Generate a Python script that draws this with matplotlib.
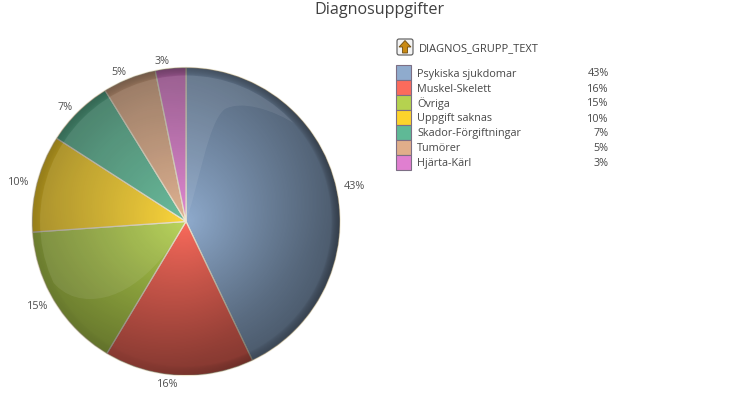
import numpy as np
import matplotlib
matplotlib.use('Agg')
import matplotlib.pyplot as plt
from matplotlib.patches import Circle, Rectangle, FancyBboxPatch, PathPatch, Polygon
from matplotlib.path import Path

plt.rcParams['font.family'] = ['Open Sans', 'DejaVu Sans']

# Datos
categorias = ['Psykiska sjukdomar', 'Muskel-Skelett', 'Övriga', 'Uppgift saknas',
              'Skador-Förgiftningar', 'Tumörer', 'Hjärta-Kärl']
andelar = [42.9, 15.7, 15.3, 10.2, 7.1, 5.6, 3.2]
etiquetas = ['43%', '16%', '15%', '10%', '7%', '5%', '3%']
colores = ['#8fabcd', '#fb6b5c', '#b5d24f', '#fdd42c', '#5fb996', '#e0ae8a', '#e07fd0']

W, H = 747, 402
cx, cy, R = 186, 222.5, 154

fig = plt.figure(figsize=(W / 100, H / 100), dpi=100)
ax = fig.add_axes([0, 0, 1, 1])

# eje y invertido: empezar en -90 y crecer = horario desde arriba
wedges, textos = ax.pie(andelar, labels=etiquetas, colors=colores, startangle=-90,
                        counterclock=True, center=(cx, cy), radius=R, labeldistance=1.05,
                        wedgeprops={'edgecolor': '#eee6cf', 'linewidth': 0.9},
                        textprops={'fontsize': 7.8, 'color': '#505050'})
# pie alinea segun x absoluto, aqui hay que mirar el lado respecto al centro
for t in textos:
    t.set_ha('right' if t.get_position()[0] < cx else 'left')

circulo = Circle((cx, cy), R, transform=ax.transData)

# sombreado: oscurece hacia el borde y hacia abajo a la derecha
yy, xx = np.mgrid[cy - R:cy + R:620j, cx - R:cx + R:620j]
dx = (xx - cx) / R
dy = (yy - cy) / R
r = np.hypot(dx, dy)
alfa = 0.42 * np.clip(r, 0, 1) ** 0.9 + 0.06 * np.clip(dx + dy, -1, 1)
alfa = np.clip(alfa, 0, 1)
borde = np.clip((r - 0.945) / 0.055, 0, 1)
alfa_borde = 0.52 + 0.12 * dx
alfa = alfa + (alfa_borde - alfa) * borde ** 0.6 * (r <= 1)
sombra = np.zeros(r.shape + (4,))
sombra[..., 3] = np.clip(alfa, 0, 1)
im = ax.imshow(sombra, extent=(cx - R, cx + R, cy + R, cy - R), zorder=3, interpolation='bilinear')
im.set_clip_path(circulo)

# brillo arriba a la izquierda
verts = [(300, 128), (270, 108), (240, 102), (225, 110),
         (208, 122), (198, 190), (186, 222),
         (165, 262), (130, 300), (90, 300),
         (70, 300), (52, 290), (40, 262),
         (10, 262), (10, 40), (310, 40), (300, 128)]
codes = [Path.MOVETO] + [Path.CURVE4] * 12 + [Path.LINETO] * 3 + [Path.CLOSEPOLY]
brillo = PathPatch(Path(verts, codes), facecolor='white', edgecolor='none', alpha=0.08, zorder=4)
ax.add_patch(brillo)
brillo.set_clip_path(Circle((cx, cy), R - 8, transform=ax.transData))

# titulo
ax.text(379.5, 10, 'Diagnosuppgifter', ha='center', va='center', fontsize=11.6, color='#404040')

# boton con flecha
ax.add_patch(FancyBboxPatch((398, 41), 14, 14, boxstyle='round,pad=1,rounding_size=2',
                            facecolor='#f4f4f4', edgecolor='#555555', linewidth=0.8))
ax.add_patch(Polygon([(405, 41.5), (411, 48), (407.5, 48), (407.5, 54), (402.5, 54), (402.5, 48), (399, 48)],
                     closed=True, facecolor='#c98a14', edgecolor='#6b4a10', linewidth=0.6))
ax.text(419, 49, 'DIAGNOS_GRUPP_TEXT', ha='left', va='center', fontsize=7.9, color='#404040')

# leyenda
for i, (cat, col, et) in enumerate(zip(categorias, colores, etiquetas)):
    y = 65.5 + 15 * i
    ax.add_patch(Rectangle((395.5, y), 15, 15, facecolor=col, edgecolor='#7d6f85', linewidth=0.8))
    ax.text(417, y + 8.5, cat, ha='left', va='center', fontsize=7.8, color='#484848')
    ax.text(608.5, y + 8.5, et, ha='right', va='center', fontsize=7.8, color='#484848')

ax.set_xlim(0, W)
ax.set_ylim(H, 0)
ax.set_aspect('auto')
ax.axis('off')

fig.savefig('out.png', dpi=100)
